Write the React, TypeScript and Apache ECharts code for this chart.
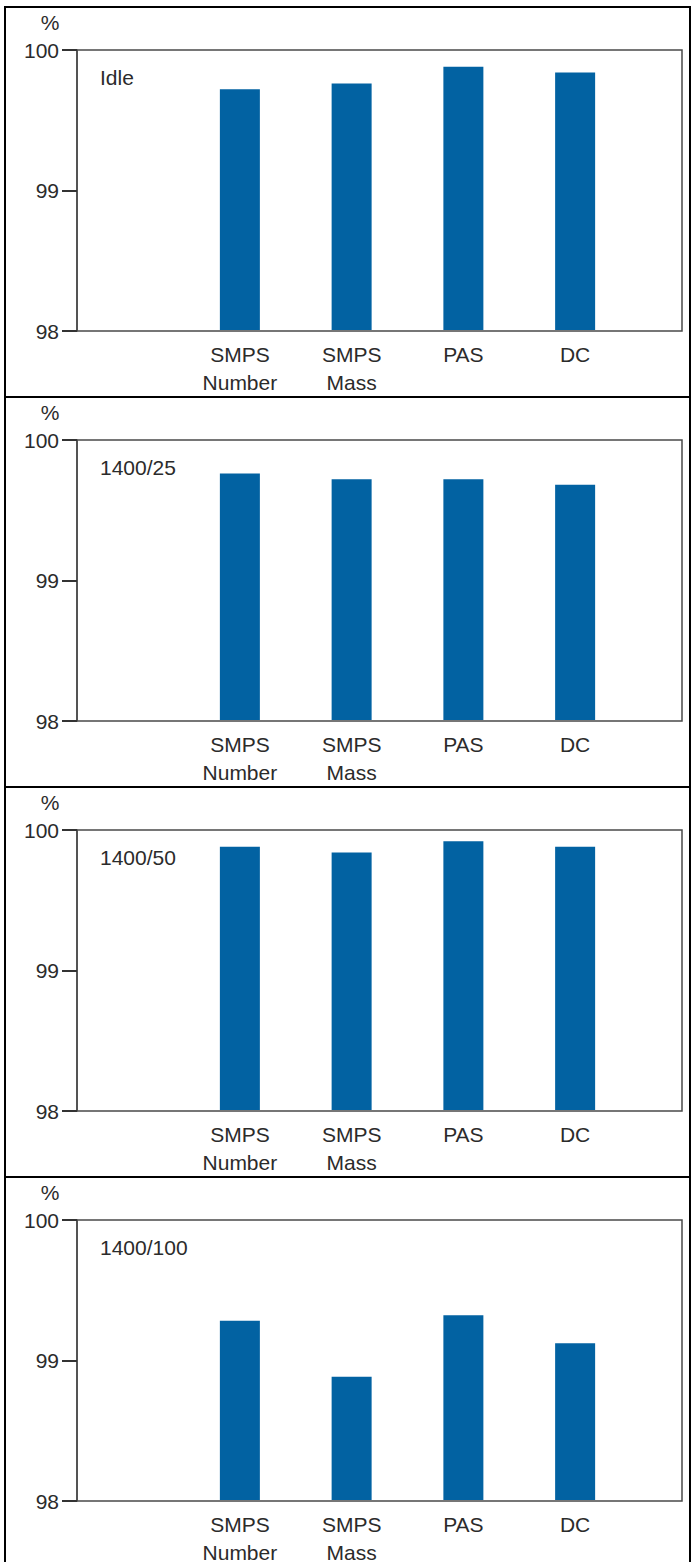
import React, { useEffect, useRef } from "react";
import * as echarts from "echarts";

const categories = ["SMPS\nNumber", "SMPS\nMass", "PAS", "DC"];
const panelLabels = ["Idle", "1400/25", "1400/50", "1400/100"];
const idleValues = [99.72, 99.76, 99.88, 99.84];
const load25Values = [99.76, 99.72, 99.72, 99.68];
const load50Values = [99.88, 99.84, 99.92, 99.88];
const load100Values = [99.28, 98.88, 99.32, 99.12];
const panelValues = [idleValues, load25Values, load50Values, load100Values];
const yMin = 98;
const yMax = 100;
const yInterval = 1;
const unitLabel = "%";

const FONT = "'Liberation Sans', Arial, Helvetica, sans-serif";
const TEXT = "#2b2b2b";
const AXIS = "#4a4a4a";
const BAR = "#0262a2";

function Panel({ label, values }: { label: string; values: number[] }) {
  const ref = useRef<HTMLDivElement>(null);
  useEffect(() => {
    if (!ref.current) return;
    const chart = echarts.init(ref.current, null, { renderer: "svg" });
    chart.setOption({
      animation: false,
      textStyle: { fontFamily: FONT },
      grid: [
        { left: 71, top: 42, width: 605, height: 281, show: true, borderColor: AXIS, borderWidth: 1.5, backgroundColor: "transparent" },
        { left: 178, top: 42, width: 447, height: 281 },
        { left: 56, top: 42, width: 15, height: 281 },
      ],
      xAxis: [
        { gridIndex: 0, type: "category", data: [""], show: false },
        {
          gridIndex: 1,
          type: "category",
          data: categories,
          axisLine: { show: false },
          axisTick: { show: false },
          axisLabel: { color: TEXT, fontSize: 21, lineHeight: 28, margin: 10, fontFamily: FONT, interval: 0 },
        },
        { gridIndex: 2, type: "category", data: [""], show: false },
      ],
      yAxis: [
        {
          gridIndex: 0,
          type: "value",
          min: yMin,
          max: yMax,
          interval: yInterval,
          axisLine: { show: true, lineStyle: { color: AXIS, width: 1.5 } },
          axisTick: { show: true, length: 15, lineStyle: { color: "#333", width: 2 } },
          axisLabel: { color: TEXT, fontSize: 21, margin: 18, fontFamily: FONT },
          splitLine: { show: false },
        },
        { gridIndex: 1, type: "value", min: yMin, max: yMax, show: false, splitLine: { show: false } },
        {
          gridIndex: 2,
          type: "value",
          min: yMin,
          max: yMax,
          interval: yInterval,
          axisLine: { show: false },
          axisTick: { show: false },
          axisLabel: { show: false },
          splitLine: { show: true, lineStyle: { color: "#333", width: 2 } },
        },
      ],
      graphic: [
        { type: "text", x: 44, y: 14, style: { text: unitLabel, fill: TEXT, font: `21px ${FONT}`, textAlign: "center", textVerticalAlign: "middle" } },
        { type: "text", x: 94, y: 69, style: { text: label, fill: TEXT, font: `21px ${FONT}`, textAlign: "left", textVerticalAlign: "middle" } },
      ],
      series: [
        {
          type: "bar",
          xAxisIndex: 1,
          yAxisIndex: 1,
          data: values,
          barWidth: 40,
          clip: true,
          itemStyle: { color: BAR },
        },
      ],
    });
    return () => chart.dispose();
  }, [label, values]);
  return <div ref={ref} style={{ width: 683, height: 388 }} />;
}

export default function App() {
  return (
    <div style={{ position: "absolute", left: 0, top: 0, width: 691, height: 1562, background: "#fff", overflow: "hidden" }}>
      {panelLabels.map((lab, i) => (
        <div
          key={lab}
          style={{
            position: "absolute",
            left: 4,
            top: 6 + 390 * i,
            width: 687,
            height: 390,
            boxSizing: "border-box",
            borderTop: "2px solid #000",
            borderLeft: "2px solid #000",
            borderRight: "2px solid #000",
          }}
        >
          <Panel label={lab} values={panelValues[i]} />
        </div>
      ))}
    </div>
  );
}
